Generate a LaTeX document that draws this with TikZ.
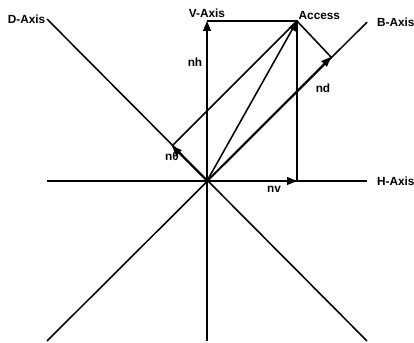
\documentclass[tikz,border=0pt]{standalone}
\usepackage{fontspec}
\setmainfont{Liberation Sans}
\usetikzlibrary{arrows.meta,positioning}
\tikzset{
  axisline/.style={line width=1.1pt},
  vec/.style={line width=1.1pt, -{Triangle[length=7pt,width=5.5pt]}},
  lbl/.style={font=\fontsize{8.4}{10}\selectfont\bfseries, inner sep=1pt}}
\begin{document}
\begin{tikzpicture}
  \useasboundingbox (-5.175,-4.05) rectangle (5.175,4.525);
  % axes
  \coordinate (O) at (0,0);
  \coordinate (hl) at (-4,0); \coordinate (hr) at (4,0);
  \coordinate (vt) at (0,4); \coordinate (vb) at (0,-4);
  \coordinate (dt) at (-4,4.05); \coordinate (db) at (4,-4);
  \coordinate (bt) at (4,3.97); \coordinate (bb) at (-4,-4);
  % access vector and its parts
  \coordinate (acc) at (2.25,4);
  \coordinate (nv) at (2.25,0);
  \coordinate (nd) at (3.1,3.1);
  \coordinate (nt) at (-0.875,0.875);
  \draw[axisline] (hl) -- (hr);
  \draw[axisline] (vb) -- (O);
  \draw[axisline] (dt) -- (db);
  \draw[axisline] (bb) -- (bt);
  \draw[axisline] (vt) -- (acc) -- (nv);
  \draw[axisline] (acc) -- (nd);
  \draw[axisline] (nt) -- (acc);
  \draw[vec] (O) -- (vt);
  \draw[vec] (O) -- (nv);
  \draw[vec] (O) -- (acc);
  \draw[vec] (O) -- (nd);
  \draw[vec] (O) -- (nt);
  % labels
  \node[lbl, left=0pt of dt] (dlbl) {D-Axis};
  \node[lbl, above=1pt of vt] (vlbl) {V-Axis};
  \node[lbl, above right=0pt and 0pt of acc] (acclbl) {Access};
  \node[lbl, right=6pt of bt] (blbl) {B-Axis};
  \node[lbl, right=6pt of hr] (hlbl) {H-Axis};
  \node[lbl] (nhlbl) at (-0.3,2.975) {nh};
  \node[lbl] (ndlbl) at (2.9,2.325) {nd};
  \node[lbl, below=3pt of nt] (ntlbl) {nθ};
  \node[lbl] (nvlbl) at (1.675,-0.2) {nv};
\end{tikzpicture}
\end{document}
